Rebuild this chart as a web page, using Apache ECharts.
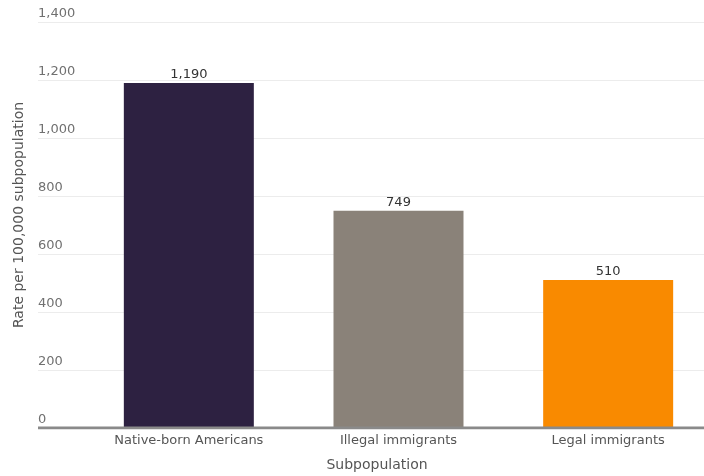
<!DOCTYPE html>
<html>
<head>
<meta charset="utf-8">
<script src="https://cdn.jsdelivr.net/npm/echarts@6/dist/echarts.min.js"></script>
<style>
  html, body { margin: 0; padding: 0; background: #fff; }
  #chart { width: 704px; height: 476px; }
</style>
</head>
<body>
<div id="chart"></div>
<script>
// Incarceration rate by subpopulation
const categories = ['Native-born Americans', 'Illegal immigrants', 'Legal immigrants'];
const rates = [1190, 749, 510];
const barColors = ['#2d2141', '#8a8279', '#f98a00'];
const yTicks = [0, 200, 400, 600, 800, 1000, 1200, 1400];

const FONT = 'DejaVu Sans';
const yMin = yTicks[0];
const yMax = yTicks[yTicks.length - 1];
const yStep = yTicks[1] - yTicks[0];

const chart = echarts.init(document.getElementById('chart'));
chart.setOption({
  animation: false,
  textStyle: { fontFamily: FONT },
  grid: [
    // gridlines and tick labels span the full width
    { left: 38, right: 0, top: 22, bottom: 48, containLabel: false, outerBoundsMode: 'none' },
    // bars sit in their own band, running slightly past the right edge
    { left: 84, right: -9, top: 22, bottom: 48, containLabel: false, outerBoundsMode: 'none' }
  ],
  xAxis: [
    {
      gridIndex: 0, type: 'value', min: 0, max: 1, show: false
    },
    {
      gridIndex: 1, type: 'category', data: categories,
      axisLine: { show: false },
      axisTick: { show: false },
      axisLabel: { color: '#555', fontSize: 13, margin: 6, fontFamily: FONT },
      name: 'Subpopulation', nameLocation: 'middle', nameGap: 30,
      nameTextStyle: { color: '#555', fontSize: 14, fontFamily: FONT, padding: [0, 43, 0, 0] }
    }
  ],
  yAxis: [
    {
      gridIndex: 0, type: 'value', min: yMin, max: yMax, interval: yStep,
      axisLine: { show: false },
      axisTick: { show: false },
      splitLine: { lineStyle: { color: '#ececec', width: 1 } },
      axisLabel: {
        inside: true, align: 'left', verticalAlign: 'bottom',
        margin: 0, padding: [0, 0, 2, 0],
        color: '#707070', fontSize: 13, fontFamily: FONT,
        formatter: v => v.toLocaleString('en-US')
      },
      name: 'Rate per 100,000 subpopulation', nameLocation: 'middle', nameGap: 12,
      nameTextStyle: { color: '#555', fontSize: 14, fontFamily: FONT, padding: [0, 0, 0, 20] }
    },
    {
      gridIndex: 1, type: 'value', min: yMin, max: yMax, interval: yStep, show: false
    }
  ],
  series: [
    {
      type: 'bar', xAxisIndex: 1, yAxisIndex: 1,
      barWidth: '62%',
      data: rates.map((v, i) => ({ value: v, itemStyle: { color: barColors[i] } })),
      label: {
        show: true, position: 'top', distance: 2,
        color: '#333', fontSize: 13, fontFamily: FONT,
        formatter: p => p.value.toLocaleString('en-US')
      },
      z: 3
    },
    {
      // baseline along zero
      type: 'line', xAxisIndex: 0, yAxisIndex: 0,
      data: [[0, 0], [1, 0]], symbol: 'none',
      lineStyle: { color: '#8a8a8a', width: 3 }, z: 4, silent: true
    }
  ]
});
</script>
</body>
</html>
